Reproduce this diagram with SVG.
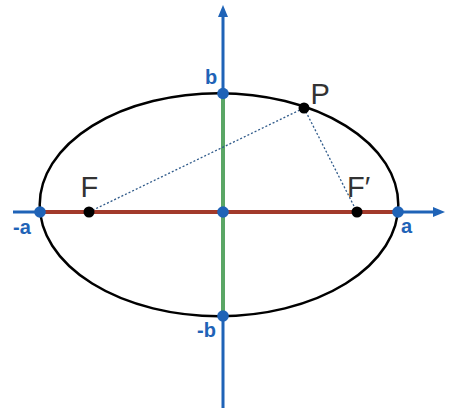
<svg xmlns="http://www.w3.org/2000/svg" width="474" height="413" viewBox="0 0 474 413">
<defs>
<marker id="arr" markerUnits="userSpaceOnUse" markerWidth="13" markerHeight="11" refX="1" refY="5" orient="auto">
<path d="M0,0 L12,5 L0,10 z" fill="#1f63b7"/>
</marker>
</defs>
<style>
.axis{stroke:#1f63b7;stroke-width:3;fill:none}
.seg-a{stroke:#a23a2b;stroke-width:4;fill:none}
.seg-b{stroke:#5aa665;stroke-width:4;fill:none}
.ell{stroke:#000;stroke-width:2.5;fill:none}
.dot-line{stroke:#2f5a8a;stroke-width:1.3;stroke-dasharray:2 2;fill:none}
.bdot{fill:#1f63b7}
.kdot{fill:#000}
.lbl{font-family:"Liberation Sans",Arial,sans-serif;font-size:29px;fill:#333}
.ax{font-family:"Liberation Sans",Arial,sans-serif;font-size:20px;font-weight:bold;fill:#1f63b7}
</style>
<rect width="474" height="413" fill="#fff"/>
<g id="connectors">
<line class="axis" x1="13" y1="212" x2="434" y2="212" marker-end="url(#arr)"/>
<line class="axis" x1="223" y1="408" x2="223" y2="16" marker-end="url(#arr)"/>
<line class="seg-a" x1="40" y1="212" x2="398" y2="212"/>
<line class="seg-b" x1="223" y1="93" x2="223" y2="316"/>
<line class="dot-line" x1="89" y1="212" x2="304" y2="108"/>
<line class="dot-line" x1="304" y1="108" x2="357" y2="212"/>
</g>
<g id="ellipse">
<ellipse class="ell" cx="219" cy="204.7" rx="179.3" ry="111.5"/>
</g>
<g id="node-neg-a"><circle class="bdot" cx="40" cy="212" r="5.8"/><text class="ax" x="13" y="233.5">-a</text></g>
<g id="node-a"><circle class="bdot" cx="398" cy="212" r="5.8"/><text class="ax" x="401" y="233">a</text></g>
<g id="node-b"><circle class="bdot" cx="223" cy="93.5" r="5.8"/><text class="ax" x="205" y="83.5">b</text></g>
<g id="node-neg-b"><circle class="bdot" cx="223" cy="316" r="5.8"/><text class="ax" x="197" y="336.5">-b</text></g>
<g id="node-center"><circle class="bdot" cx="223" cy="212" r="5.8"/></g>
<g id="node-F"><circle class="kdot" cx="89" cy="212" r="5.5"/><text class="lbl" x="80.5" y="197">F</text></g>
<g id="node-F2"><circle class="kdot" cx="357" cy="212" r="5.5"/><text class="lbl" x="347" y="197">F′</text></g>
<g id="node-P"><circle class="kdot" cx="304" cy="108" r="5.5"/><text class="lbl" x="310.5" y="103.5">P</text></g>
</svg>
